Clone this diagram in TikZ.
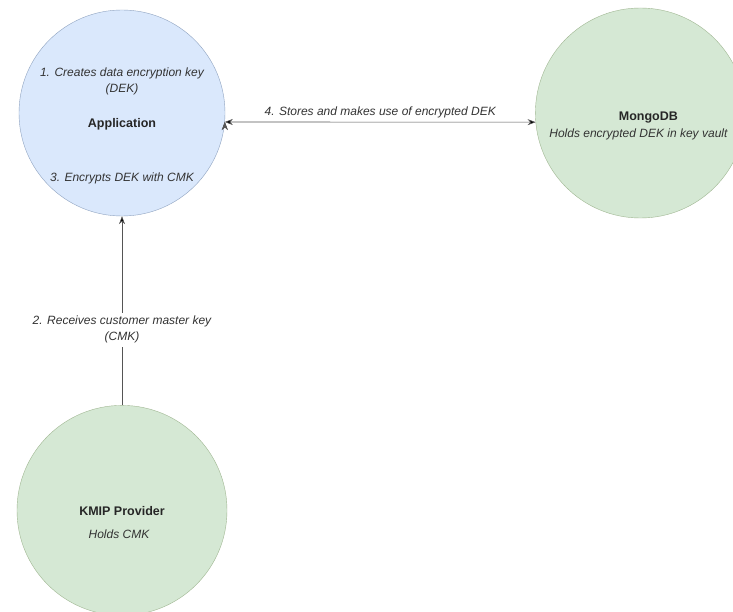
\documentclass[tikz,border=0pt]{standalone}
\usepackage{fontspec}
\setmainfont{Liberation Sans}
\usepackage{tikz}
\usetikzlibrary{arrows,arrows.meta,shapes,positioning}
\definecolor{appblue}{HTML}{DAE8FC}
\definecolor{appedge}{HTML}{8FA3C0}
\definecolor{keygreen}{HTML}{D5E8D4}
\definecolor{keyedge}{HTML}{A0B792}
\definecolor{wire}{HTML}{555555}
\tikzstyle{appstate}=[circle,fill=appblue,draw=appedge,minimum size=206pt,inner sep=0pt]
\tikzstyle{keystate}=[circle,fill=keygreen,draw=keyedge,minimum size=210pt,inner sep=0pt]
\tikzstyle{title}=[font=\fontsize{12.5}{15}\selectfont\bfseries,text=black!85]
\tikzstyle{note}=[font=\fontsize{12}{16}\selectfont\itshape,text=black!80,align=center]
\tikzstyle{link}=[draw=wire,semithick]

\begin{document}
\begin{tikzpicture}[x=1pt,y=-1pt,>={Stealth[length=8pt,width=6pt]}]
  \useasboundingbox[fill=white] (0,0) rectangle (733,612);

	\node[appstate] (app) at (122,113) {};
	\node[keystate] (mongo) [right=310pt of app] {};
	\node[keystate] (kmip) [below=189pt of app] {};

	% texts inside the circles
	\node[note] (step1) at ([yshift=32pt]app.center) {1. Creates data encryption key\\(DEK)};
	\node[title] (appname) at ([yshift=-11pt]app.center) {Application};
	\node[note] (step3) at ([yshift=-65pt]app.center) {3. Encrypts DEK with CMK};
	\node[title] (mongoname) at ([xshift=8pt,yshift=-5pt]mongo.center) {MongoDB};
	\node[note] (mongonote) at ([xshift=-2pt,yshift=-21pt]mongo.center) {Holds encrypted DEK in key vault};
	\node[title] (kmipname) at ([yshift=-1pt]kmip.center) {KMIP Provider};
	\node[note] (kmipnote) at ([xshift=-3pt,yshift=-24pt]kmip.center) {Holds CMK};

  \path [link,<->]
		(app.-5) edge node [note,above] {4. Stores and makes use of encrypted DEK} (mongo.185);
  \path [link,->]
        (kmip) edge node [note,fill=white,pos=0.4] {2. Receives customer master key\\(CMK)} (app);

\end{tikzpicture}
\end{document}
